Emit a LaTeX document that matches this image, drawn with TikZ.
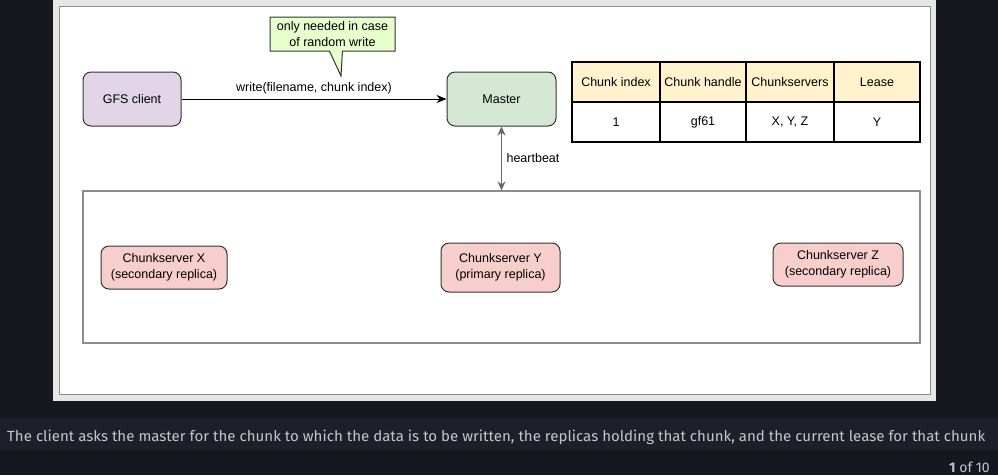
\documentclass[tikz,border=0pt]{standalone}
\usepackage{fontspec}
\setsansfont{Liberation Sans}
\newfontfamily\capfont{Fira Sans}
\usetikzlibrary{arrows.meta,shapes.callouts}
\definecolor{pagebg}{HTML}{16171F}
\definecolor{bandbg}{HTML}{1E1F28}
\definecolor{captext}{HTML}{C4C5CC}
\definecolor{framegray}{HTML}{E6E6E6}
\definecolor{edgegray}{HTML}{8C8C8C}
\definecolor{boxline}{HTML}{333333}
\definecolor{clientfill}{HTML}{E1D5E7}
\definecolor{masterfill}{HTML}{D5E8D4}
\definecolor{serverfill}{HTML}{F8CECC}
\definecolor{notefill}{HTML}{E6FFCC}
\definecolor{headfill}{HTML}{FFF2CC}
\definecolor{beatgray}{HTML}{666666}

\begin{document}
\begin{tikzpicture}[
    x=1pt, y=-1pt,
    font=\sffamily\fontsize{12.5}{15.5}\selectfont,
    box/.style={draw=boxline, line width=1pt, rounded corners=8pt, inner sep=0pt, align=center},
    cell/.style={draw=black, line width=1.5pt, inner sep=0pt, minimum height=40pt},
    flow/.style={-{Stealth[length=10pt, width=8pt]}, line width=1pt},
    beat/.style={{Stealth[length=9pt, width=8pt]}-{Stealth[length=9pt, width=8pt]}, draw=beatgray, line width=1.5pt}
  ]
  % page and slide frame
  \fill[pagebg] (0,0) rectangle (998,475);
  \fill[bandbg] (0,418) rectangle (998,450);
  \fill[framegray] (53,0) rectangle (936,401);
  \filldraw[fill=white, draw=edgegray, line width=1pt] (59,6) rectangle (930,394);

  \node[box, fill=clientfill, minimum width=98pt, minimum height=54pt] (client) at (132,99) {GFS client};
  \node[box, fill=masterfill, minimum width=109pt, minimum height=54pt] (master) at (501.5,99) {Master};
  \node[rectangle callout, draw=boxline, line width=1pt, fill=notefill, align=center,
        minimum width=125pt, minimum height=34pt, inner sep=0pt,
        callout pointer width=13pt, callout absolute pointer={(341,76)}] (note) at (332.5,34)
        {only needed in case\\of random write};

  % lookup table
  \foreach \cx/\cw/\hd/\vl [count=\i] in {616/88/Chunk index/1, 703/86/Chunk handle/gf61,
      790/88/Chunkservers/{X, Y, Z}, 877/86/Lease/Y} {
    \node[cell, fill=headfill, minimum width=\cw pt] (head\i) at (\cx,82) {\hd};
    \node[cell, minimum width=\cw pt] (row\i) at (\cx,122) {\vl};
  }

  \node[draw=edgegray, line width=1.2pt, minimum width=837pt, minimum height=152pt, inner sep=0pt] (cluster) at (501.5,267) {};
  \node[box, fill=serverfill, minimum width=126pt, minimum height=43pt] (csx) at (164,267.5) {Chunkserver X\\(secondary replica)};
  \node[box, fill=serverfill, minimum width=119pt, minimum height=49pt] (csy) at (500.5,267.5) {Chunkserver Y\\(primary replica)};
  \node[box, fill=serverfill, minimum width=130pt, minimum height=43pt] (csz) at (838,264.5) {Chunkserver Z\\(secondary replica)};

  \draw[flow] (client) -- node[above=1pt] {write(filename, chunk index)} (master);
  \draw[beat] (master.south) -- node[right=1pt] {heartbeat} (master.south |- cluster.north);

  % caption and counter
  \node[anchor=base west, text=captext, inner sep=0pt] (caption) at (7,441)
    {\resizebox{978pt}{11.5pt}{\capfont The client asks the master for the chunk to which the data is to be written, the replicas holding that chunk, and the current lease for that chunk}};
  \node[anchor=base east, text=captext, inner sep=0pt, font=\capfont\fontsize{14}{16}\selectfont] (counter) at (990,472) {\textbf{1} of 10};
\end{tikzpicture}
\end{document}
